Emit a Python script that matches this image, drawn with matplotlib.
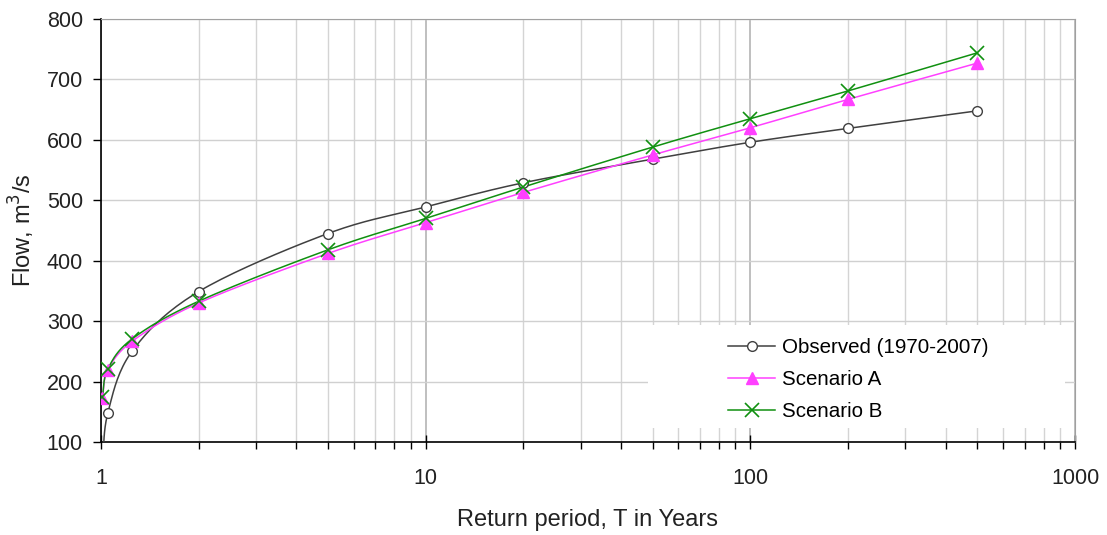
import numpy as np
import matplotlib
matplotlib.use('Agg')
from matplotlib import pyplot as plt
from matplotlib.lines import Line2D
from matplotlib.patches import Rectangle
from matplotlib.ticker import FixedLocator, FixedFormatter, NullFormatter

plt.rcParams['font.family'] = ['Liberation Sans', 'DejaVu Sans']

# Return periods (years) and flows (m3/s)
t_obs = [1.01, 1.05, 1.25, 2, 5, 10, 20, 50, 100, 200, 500]
q_obs = [60, 148, 251, 349, 445, 489, 529, 568, 596, 619, 648]

t_scen = [1.01, 1.05, 1.25, 2, 5, 10, 20, 50, 100, 200, 500]
q_a = [173, 219, 267, 330, 412, 463, 513, 575, 620, 667, 727]
q_b = [175, 221, 271, 333, 418, 470, 522, 588, 635, 681, 744]

labels = ['Observed (1970-2007)', 'Scenario A', 'Scenario B']

FS = 15.5      # tick labels
FS_AX = 17     # axis titles
FS_LEG = 14.8  # legend


def smooth(t, q, n=20):
    # Catmull-Rom curve through the points, in log-T space
    x = np.log10(np.asarray(t, float))
    y = np.asarray(q, float)
    px = np.concatenate([[2 * x[0] - x[1]], x, [2 * x[-1] - x[-2]]])
    py = np.concatenate([[2 * y[0] - y[1]], y, [2 * y[-1] - y[-2]]])
    xs, ys = [], []
    s = np.linspace(0, 1, n, endpoint=False)
    for i in range(1, len(px) - 2):
        for arr, out in ((px, xs), (py, ys)):
            p0, p1, p2, p3 = arr[i - 1], arr[i], arr[i + 1], arr[i + 2]
            out.extend(0.5 * (2 * p1 + (-p0 + p2) * s
                              + (2 * p0 - 5 * p1 + 4 * p2 - p3) * s ** 2
                              + (-p0 + 3 * p1 - 3 * p2 + p3) * s ** 3))
    xs.append(x[-1])
    ys.append(y[-1])
    return 10 ** np.array(xs), np.array(ys)


fig = plt.figure(figsize=(11.07, 5.35), dpi=100)
ax = fig.add_axes([0.0912, 0.1738, 0.8799, 0.7907])

c_obs, c_a, c_b = '#404040', '#ff40ff', '#109010'

series = [
    (t_obs, q_obs, c_obs, dict(marker='o', ms=7, mfc='white', mec=c_obs, mew=1.0)),
    (t_scen, q_a, c_a, dict(marker='^', ms=8, mfc=c_a, mec=c_a, mew=1.0)),
    (t_scen, q_b, c_b, dict(marker='x', ms=10, mfc=c_b, mec=c_b, mew=1.2)),
]

handles = []
for t, q, col, mk in series:
    xs, ys = smooth(t, q)
    ax.plot(xs, ys, color=col, lw=1.1, zorder=3)
    ax.plot(t, q, ls='none', zorder=4, **mk)
    handles.append(Line2D([], [], color=col, lw=1.1, **mk))

ax.set_xscale('log')
ax.set_xlim(1, 1000)
ax.set_ylim(100, 800)
ax.set_yticks(range(100, 801, 100))

ax.xaxis.set_major_locator(FixedLocator([1, 10, 100, 1000]))
ax.xaxis.set_major_formatter(FixedFormatter(['1', '10', '100', '1000']))
minor = [m * d for d in (1, 10, 100) for m in range(2, 10)]
ax.xaxis.set_minor_locator(FixedLocator(minor))
ax.xaxis.set_minor_formatter(NullFormatter())

# Grid
ax.grid(True, which='major', axis='y', color='#d0d0d0', lw=1.0, zorder=0)
ax.grid(True, which='major', axis='x', color='#b4b4b4', lw=1.2, zorder=0)
ax.grid(True, which='minor', axis='x', color='#d4d4d4', lw=1.0, zorder=0)
ax.set_axisbelow(True)

for side in ('top', 'right'):
    ax.spines[side].set_color('#a0a0a0')
for side in ('left', 'bottom'):
    ax.spines[side].set_color('black')
    ax.spines[side].set_linewidth(1.2)

ax.tick_params(axis='y', direction='out', length=6, width=1, pad=7,
               labelsize=FS, colors='black', labelcolor='#222222')
ax.tick_params(axis='x', which='major', direction='inout', length=10, width=1,
               pad=14, labelsize=FS, labelcolor='#222222')
ax.tick_params(axis='x', which='minor', direction='out', length=5, width=1)

ax.set_xlabel('Return period, T in Years', fontsize=FS_AX, color='#222222', labelpad=14)
ax.set_ylabel('Flow, m$^3$/s', fontsize=FS_AX, color='#222222', labelpad=7)

# White panel behind the legend
ax.add_patch(Rectangle((0.5616, 0.0331), 0.4281, 0.2435, transform=ax.transAxes,
                       facecolor='white', edgecolor='none', zorder=2))
leg = ax.legend(handles, labels, loc='upper left', bbox_to_anchor=(0.6437, 0.245),
                frameon=False, fontsize=FS_LEG, handlelength=2.3, handletextpad=0.35,
                labelspacing=0.63, borderpad=0, borderaxespad=0)
leg.set_zorder(5)

fig.savefig('out.png', dpi=100)
